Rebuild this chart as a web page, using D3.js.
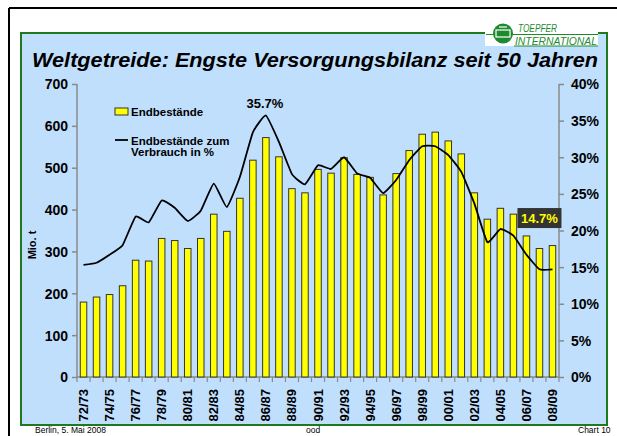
<!DOCTYPE html>
<html><head><meta charset="utf-8">
<script src="https://cdn.jsdelivr.net/npm/d3@7"></script>
<style>html,body{margin:0;padding:0;background:#fff;}svg{display:block;font-family:Arial,"Liberation Sans",sans-serif;}</style>
</head><body>
<svg id="c" width="617" height="436"></svg>
<script>
const categories = ["72/73","73/74","74/75","75/76","76/77","77/78","78/79","79/80","80/81","81/82","82/83","83/84","84/85","85/86","86/87","87/88","88/89","89/90","90/91","91/92","92/93","93/94","94/95","95/96","96/97","97/98","98/99","99/00","00/01","01/02","02/03","03/04","04/05","05/06","06/07","07/08","08/09"];
const stocks = [179,191,197,218,279,277,331,326,307,331,389,348,427,518,572,526,450,440,496,487,524,484,477,435,486,541,580,585,564,533,440,377,403,389,337,307,314];
const stocksToUse = [15.3,15.6,16.7,18.0,21.9,21.1,24.1,23.1,21.3,22.7,26.4,23.2,27.3,33.4,35.7,32.1,27.7,26.3,28.9,28.4,30.0,27.8,27.2,25.1,26.9,29.6,31.5,31.5,30.3,28.0,23.7,18.4,20.2,19.3,16.7,14.7,14.7];
const leftTicks = [0,100,200,300,400,500,600,700];
const rightTicks = [0,5,10,15,20,25,30,35,40];
const xLabels = categories.filter((d,i)=>i%2===0);

const svg = d3.select("#c");
// outer frame
svg.append("line").attr("x1",9).attr("x2",617).attr("y1",8).attr("y2",8).attr("stroke","#000").attr("stroke-width",2);
svg.append("line").attr("x1",9).attr("x2",9).attr("y1",8).attr("y2",436).attr("stroke","#000").attr("stroke-width",2);
// panel
svg.append("rect").attr("x",21).attr("y",33).attr("width",586).attr("height",392).attr("fill","#C0DFFD").attr("stroke","#1E7A1E").attr("stroke-width",2);

// logo
const lg = svg.append("g");
lg.append("rect").attr("x",485).attr("y",21).attr("width",113).attr("height",25).attr("fill","#fff");
lg.append("line").attr("x1",486).attr("x2",598).attr("y1",34.5).attr("y2",34.5).attr("stroke","#1E8A2E").attr("stroke-width",1);
lg.append("line").attr("x1",514).attr("x2",598).attr("y1",46).attr("y2",46).attr("stroke","#1E8A2E").attr("stroke-width",1);
lg.append("circle").attr("cx",503).attr("cy",33.5).attr("r",10).attr("fill","#1E8A2E");
lg.append("rect").attr("x",496).attr("y",30).attr("width",14).attr("height",7).attr("fill","none").attr("stroke","#fff").attr("stroke-width",1.2);
lg.append("line").attr("x1",499).attr("x2",507).attr("y1",27).attr("y2",27).attr("stroke","#fff").attr("stroke-width",1.2);
lg.append("text").attr("x",518).attr("y",32).attr("font-size",11).attr("font-style","italic").attr("fill","#1E8A2E")
  .attr("textLength",39).attr("lengthAdjust","spacingAndGlyphs").text("TOEPFER");
lg.append("text").attr("x",515).attr("y",45).attr("font-size",11).attr("font-style","italic").attr("fill","#1E8A2E")
  .attr("textLength",82).attr("lengthAdjust","spacingAndGlyphs").text("INTERNATIONAL");

// title
svg.append("text").attr("x",32).attr("y",67).attr("font-size",20).attr("font-weight","bold").attr("font-style","italic").attr("fill","#000")
  .attr("textLength",566).attr("lengthAdjust","spacingAndGlyphs")
  .text("Weltgetreide: Engste Versorgungsbilanz seit 50 Jahren");

const L=77, R=559, T=84, B=377;
const x = d3.scaleBand().domain(categories).range([L,R]).paddingInner(0.5).paddingOuter(0.25);
const y = d3.scaleLinear().domain([0,700]).range([B,T]);
const yp = d3.scaleLinear().domain([0,40]).range([B,T]);
const axisCol="#8a8a8a";

// left axis
const ga = svg.append("g").attr("transform",`translate(${L},0)`).call(d3.axisLeft(y).tickValues(leftTicks).tickSize(5).tickPadding(4));
ga.selectAll("path,line").attr("stroke",axisCol).attr("stroke-width",1.5);
ga.selectAll("text").attr("font-size",14).attr("font-weight","bold").attr("fill","#000").attr("font-family","Arial,'Liberation Sans',sans-serif").attr("dy","0.35em");
ga.select(".domain").attr("d",`M0,${T}V${B}`);

// right axis
const gr = svg.append("g").attr("transform",`translate(${R},0)`).call(d3.axisRight(yp).tickValues(rightTicks).tickFormat(d=>d+"%").tickSize(5).tickPadding(7));
gr.selectAll("path,line").attr("stroke",axisCol).attr("stroke-width",1.5);
gr.selectAll("text").attr("font-size",14).attr("font-weight","bold").attr("fill","#000").attr("font-family","Arial,'Liberation Sans',sans-serif").attr("dy","0.35em");
gr.select(".domain").attr("d",`M0,${T}V${B}`);

// x axis line + ticks at category boundaries
svg.append("line").attr("x1",L).attr("x2",R).attr("y1",B).attr("y2",B).attr("stroke",axisCol).attr("stroke-width",1.5);
const step = x.step();
svg.append("g").selectAll("line").data(d3.range(categories.length+1)).join("line")
  .attr("x1",i=>L+i*step).attr("x2",i=>L+i*step).attr("y1",B).attr("y2",B+5).attr("stroke",axisCol).attr("stroke-width",1.2);
svg.append("g").selectAll("text").data(xLabels).join("text")
  .attr("transform",d=>`translate(${x(d)+x.bandwidth()/2+4.5},${B+12}) rotate(-90)`)
  .attr("text-anchor","end").attr("font-size",13).attr("font-weight","bold").attr("fill","#000").text(d=>d);

// y title
svg.append("text").attr("transform","translate(36,245) rotate(-90)").attr("text-anchor","middle").attr("font-size",11).attr("font-weight","bold").text("Mio. t");

// bars
svg.append("g").selectAll("rect").data(categories).join("rect")
  .attr("x",d=>x(d)).attr("width",x.bandwidth())
  .attr("y",(d,i)=>y(stocks[i])).attr("height",(d,i)=>B-y(stocks[i]))
  .attr("fill","#FFFF00").attr("stroke","#333").attr("stroke-width",1);

// line
const line = d3.line().x((d,i)=>x(categories[i])+x.bandwidth()/2).y(d=>yp(d)).curve(d3.curveCardinal.tension(0.6));
svg.append("path").datum(stocksToUse).attr("d",line).attr("fill","none").attr("stroke","#000").attr("stroke-width",1.8);

// annotations
const iMax = stocksToUse.indexOf(d3.max(stocksToUse));
svg.append("text").attr("x",x(categories[iMax])+x.bandwidth()/2-1).attr("y",yp(stocksToUse[iMax])-7).attr("text-anchor","middle")
  .attr("font-size",13).attr("font-weight","bold").text(stocksToUse[iMax].toFixed(1)+"%");
const last = stocksToUse[stocksToUse.length-1];
const bx = x("07/08")+x.bandwidth()/2, by = yp(21.7);
svg.append("rect").attr("x",bx-22).attr("y",by-10).attr("width",44).attr("height",20).attr("fill","#333");
svg.append("text").attr("x",bx).attr("y",by+5).attr("text-anchor","middle").attr("font-size",13).attr("font-weight","bold").attr("fill","#FFFF00").text(last.toFixed(1)+"%");

// legend
svg.append("rect").attr("x",115).attr("y",108).attr("width",13).attr("height",7).attr("fill","#FFFF00").attr("stroke","#333").attr("stroke-width",1);
svg.append("text").attr("x",131).attr("y",115.5).attr("font-size",11.5).attr("font-weight","bold").text("Endbestände");
svg.append("line").attr("x1",115).attr("x2",128).attr("y1",140).attr("y2",140).attr("stroke","#000").attr("stroke-width",1.8);
svg.append("text").attr("x",131).attr("y",144.5).attr("font-size",11.5).attr("font-weight","bold").text("Endbestände zum");
svg.append("text").attr("x",131).attr("y",155.5).attr("font-size",11.5).attr("font-weight","bold").text("Verbrauch in %");

// footer
svg.append("text").attr("x",35).attr("y",433).attr("font-size",8.5).text("Berlin, 5. Mai 2008");
svg.append("text").attr("x",306).attr("y",433).attr("font-size",8.5).text("ood");
svg.append("text").attr("x",578).attr("y",433).attr("font-size",8.5).text("Chart 10");
</script>
</body></html>
